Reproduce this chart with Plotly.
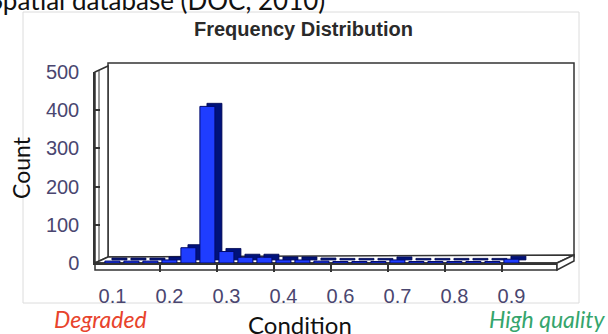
import plotly.graph_objects as go

# ---- data ----
bins = list(range(22))
counts = [5, 5, 5, 8, 40, 410, 30, 15, 15, 8, 8, 5, 4, 4, 4, 8, 4, 4, 4, 4, 4, 10]
tick_pos = [0, 3, 6, 9, 12, 15, 18, 21]
tick_labels = ["0.1", "0.2", "0.3", "0.4", "0.6", "0.7", "0.8", "0.9"]
y_ticks = [0, 100, 200, 300, 400, 500]

W, H = 608, 334
L, R, T, B = 95, 570, 66, 263   # paper region in pixels
PW, PH = R - L, B - T
DX, DY = 13, 6                  # 3D depth offset in pixels


def px(x):
    return (x - L) / PW


def py(y):
    return (B - y) / PH


fig = go.Figure()

# side/top faces (dark) then front faces (bright)
fig.add_trace(go.Bar(x=bins, y=counts, base=8, width=0.79, offset=-0.4 + 0.37,
                     marker=dict(color="#00127a", line=dict(color="#000850", width=0.8)),
                     xaxis="x2", yaxis="y2", hoverinfo="skip"))
fig.add_trace(go.Bar(x=bins, y=counts, width=0.79, offset=-0.4,
                     marker=dict(color="#1f3dff", line=dict(color="#000a6b", width=1)),
                     xaxis="x2", yaxis="y2"))

tick_font = dict(family="Liberation Sans, Arial", size=20, color="#4a4670")
line_col = "#333333"

fig.update_layout(
    width=W, height=H,
    margin=dict(l=L, r=W - R, t=T, b=H - B),
    paper_bgcolor="white", plot_bgcolor="rgba(0,0,0,0)",
    showlegend=False, barmode="overlay",
    xaxis=dict(domain=[DX / PW, 1], range=[0, 1], showticklabels=False, ticks="",
               showgrid=False, zeroline=False, showline=True, mirror=True,
               linecolor=line_col, linewidth=2, anchor="y", fixedrange=True),
    yaxis=dict(domain=[DY / PH, 1], range=[0, 500], tickvals=y_ticks,
               showticklabels=False, ticks="", showgrid=True, gridcolor="#333333",
               gridwidth=2, zeroline=False, showline=True, mirror=True,
               linecolor=line_col, linewidth=2, anchor="x"),
    xaxis2=dict(domain=[0, (PW - DX) / PW], range=[-17.5 / 19, -17.5 / 19 + (PW - DX) / 19],
                anchor="y2", tickvals=tick_pos, ticktext=tick_labels, ticks="",
                ticklabelstandoff=14, tickfont=tick_font, showgrid=False, zeroline=False,
                showline=True, linecolor=line_col, linewidth=1.5,
                minor=dict(tickvals=[p - 0.5 for p in tick_pos[1:]], ticks="outside",
                           ticklen=7, tickcolor=line_col, tickwidth=1.5)),
    yaxis2=dict(domain=[0, (PH - DY) / PH], range=[0, 500], anchor="x2",
                tickvals=y_ticks, ticks="inside", ticklen=5, tickcolor=line_col,
                tickwidth=1.5, ticklabelstandoff=10, tickfont=tick_font,
                showgrid=False, zeroline=False, showline=True, linecolor=line_col,
                linewidth=1.5),
)

shapes = []
# chart area border
shapes.append(dict(type="rect", xref="paper", yref="paper", x0=px(23), x1=px(579),
                   y0=py(303), y1=py(12), line=dict(color="#dcdcdc", width=1),
                   fillcolor="rgba(0,0,0,0)", layer="below"))
# back wall thickness (top and right)
shapes.append(dict(type="rect", xref="paper", yref="paper", x0=px(L + DX), x1=px(574),
                   y0=py(B - DY), y1=py(T - 3), line=dict(color=line_col, width=1.5),
                   fillcolor="white", layer="below"))
# left wall
shapes.append(dict(type="path", xref="paper", yref="paper",
                   path=f"M {px(L)} {py(T + DY)} L {px(L + DX)} {py(T)} L {px(L + DX)} {py(B - DY)} L {px(L)} {py(B)} Z",
                   line=dict(color=line_col, width=1.5), fillcolor="white", layer="below"))
shapes.append(dict(type="line", xref="paper", yref="paper", x0=px(L + 4), x1=px(L + 4),
                   y0=py(B - 2), y1=py(T + DY - 2), line=dict(color=line_col, width=1),
                   layer="below"))
# floor top
shapes.append(dict(type="path", xref="paper", yref="paper",
                   path=f"M {px(L)} {py(B)} L {px(R - DX)} {py(B)} L {px(R + 4)} {py(B - DY - 2)} L {px(L + DX)} {py(B - DY)} Z",
                   line=dict(color=line_col, width=1.5), fillcolor="white", layer="below"))
# floor front slab and right slab side
shapes.append(dict(type="path", xref="paper", yref="paper",
                   path=f"M {px(L)} {py(B)} L {px(R - DX)} {py(B)} L {px(R - DX)} {py(B + 7)} L {px(L)} {py(B + 7)} Z",
                   line=dict(color=line_col, width=1.5), fillcolor="white", layer="below"))
shapes.append(dict(type="path", xref="paper", yref="paper",
                   path=f"M {px(R - DX)} {py(B)} L {px(R + 4)} {py(B - DY - 2)} L {px(R + 4)} {py(B - 2)} L {px(R - DX)} {py(B + 7)} Z",
                   line=dict(color=line_col, width=1.5), fillcolor="white", layer="below"))
fig.update_layout(shapes=shapes)

ann = []
ann.append(dict(text="Spatial database (DOC, 2010)", xref="paper", yref="paper",
                x=px(-13), y=py(18), xanchor="left", yanchor="bottom", showarrow=False,
                font=dict(family="Lato", size=26, color="#111")))
ann.append(dict(text="<b>Frequency Distribution</b>", xref="paper", yref="paper",
                x=px(303), y=py(29), xanchor="center", yanchor="middle", showarrow=False,
                font=dict(family="Liberation Sans, Arial", size=20, color="#2a2a2a")))
ann.append(dict(text="Count", xref="paper", yref="paper", x=px(21), y=py(168),
                xanchor="center", yanchor="middle", textangle=-90, showarrow=False,
                font=dict(family="Lato", size=23, color="#111")))
ann.append(dict(text="Condition", xref="paper", yref="paper", x=px(300), y=py(324),
                xanchor="center", yanchor="middle", showarrow=False,
                font=dict(family="Lato", size=24, color="#111")))
ann.append(dict(text="<i>Degraded</i>", xref="paper", yref="paper", x=px(100), y=py(319),
                xanchor="center", yanchor="middle", showarrow=False,
                font=dict(family="Lato", size=23, color="#e8432c")))
ann.append(dict(text="<i>High quality</i>", xref="paper", yref="paper", x=px(547), y=py(319),
                xanchor="center", yanchor="middle", showarrow=False,
                font=dict(family="Lato", size=23, color="#35a56c")))
fig.update_layout(annotations=ann)

fig.write_html("out.html")
